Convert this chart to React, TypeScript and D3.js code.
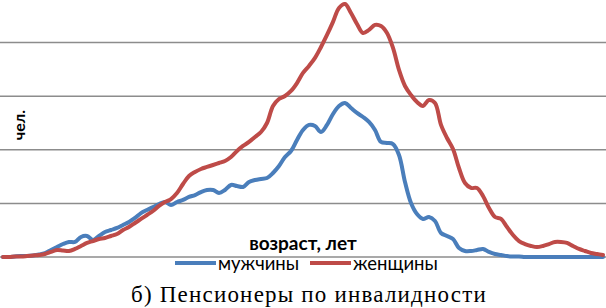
import React, { useEffect, useRef } from 'react';
import * as d3 from 'd3';

// Values (people per year of age, arbitrary scale: one grid step = 50)
const men = [
  0, 0, 0.5, 0.9, 0.9, 1.4, 2.3, 3.7, 6.5, 9.3,
  12.1, 14, 14, 18.7, 19.6, 15.9, 19.6, 23.3, 25.2, 27.1,
  29.9, 32.7, 36.4, 41, 43.9, 46.6, 49.4, 51.3, 48.5, 51.3,
  53.2, 56, 57.8, 60.6, 62.5, 62.5, 59.7, 62.5, 67.2, 66.2,
  65.3, 70, 71.8, 72.8, 73.7, 78.4, 84.9, 93.3, 98.9, 109.2,
  118.5, 123.2, 122.2, 116.6, 123.2, 133.4, 140.9, 143.7, 139, 134.4,
  130.6, 126, 118.5, 107.3, 106.4, 105.4, 95.2, 70, 50.4, 40.1,
  35.5, 37.3, 33.6, 22.4, 19.6, 16.8, 8.4, 5.6, 5.6, 6.5,
  7.5, 4.7, 2.8, 1.9, 0.9, 0.5, 0.5, 0, 0, 0,
  0, 0, 0, 0, 0, 0, 0, 0, 0, 0,
  0,
];

const women = [
  0, 0, 0.5, 0.5, 0.9, 1.4, 1.9, 2.8, 4.7, 6.5,
  6.1, 5.6, 7.5, 10.3, 13.1, 14.9, 16.8, 17.7, 19.6, 21.5,
  25.2, 28, 31.7, 35.5, 39.2, 42.9, 47.6, 51.3, 54.1, 59.7,
  68.1, 75.6, 79.3, 82.1, 84, 85.8, 87.7, 89.6, 93.3, 98.9,
  103.6, 107.3, 112, 116.6, 125, 140.9, 147.4, 150.2, 154.9, 162.3,
  171.7, 178.2, 185.7, 195.9, 207.1, 219.3, 232.3, 236, 227.6, 217.4,
  209, 211.8, 216.5, 215.5, 209, 195, 174.5, 159.5, 151.1, 144.6,
  140.9, 146.5, 143.7, 123.2, 111, 100.8, 83, 69, 64.4, 64.4,
  56.9, 45.7, 37.3, 35.5, 28, 20.5, 14.9, 12.1, 10.3, 9.3,
  10.3, 12.1, 14, 14, 13.1, 10.3, 7.5, 5.6, 3.7, 2.8,
  1.9,
];

const gridTicks = [0, 50, 100, 150, 200];

const seriesNames = ['мужчины', 'женщины'];
const seriesColors = ['#4A7EBB', '#BE4B48'];

const App: React.FC = () => {
  const svgRef = useRef<SVGSVGElement>(null);

  useEffect(() => {
    if (!svgRef.current) return;
    const svg = d3.select(svgRef.current);
    svg.selectAll('*').remove();

    const x = d3.scaleLinear().domain([0, men.length - 1]).range([3, 603]);
    const y = d3.scaleLinear().domain([0, 250]).range([257, -11]);

    // horizontal grid lines
    svg.selectAll('.grid')
      .data(gridTicks)
      .enter()
      .append('line')
      .attr('x1', 0)
      .attr('x2', 606)
      .attr('y1', d => y(d))
      .attr('y2', d => y(d))
      .attr('stroke', '#8c8c8c')
      .attr('stroke-width', 1.5);

    const line = d3.line<number>()
      .x((d, i) => x(i))
      .y(d => y(d))
      .curve(d3.curveCatmullRom.alpha(0.5));

    [men, women].forEach((values, k) => {
      svg.append('path')
        .datum(values)
        .attr('d', line)
        .attr('fill', 'none')
        .attr('stroke', seriesColors[k])
        .attr('stroke-width', 4)
        .attr('stroke-linejoin', 'round')
        .attr('stroke-linecap', 'round');
    });

    // axis titles
    svg.append('text')
      .attr('transform', 'translate(25,125) rotate(-90)')
      .attr('text-anchor', 'middle')
      .attr('font-family', 'Lato, sans-serif')
      .attr('font-weight', 'bold')
      .attr('font-size', 16)
      .attr('fill', '#000')
      .text('чел.');

    svg.append('text')
      .attr('x', 303)
      .attr('y', 250)
      .attr('text-anchor', 'middle')
      .attr('font-family', 'Lato, sans-serif')
      .attr('font-weight', 'bold')
      .attr('font-size', 19)
      .attr('fill', '#000')
      .text('возраст, лет');

    // legend
    const legendX = [175, 310];
    seriesNames.forEach((name, k) => {
      const g = svg.append('g').attr('transform', `translate(${legendX[k]},263)`);
      g.append('line')
        .attr('x1', 0)
        .attr('x2', 41)
        .attr('stroke', seriesColors[k])
        .attr('stroke-width', 4);
      g.append('text')
        .attr('x', 43)
        .attr('y', 7)
        .attr('font-family', 'Lato, sans-serif')
        .attr('font-size', 18.5)
        .attr('fill', '#000')
        .text(name);
    });

    // caption
    svg.append('text')
      .attr('x', 309)
      .attr('y', 302)
      .attr('text-anchor', 'middle')
      .attr('font-family', '"Liberation Serif", "Times New Roman", serif')
      .attr('font-size', 23)
      .attr('letter-spacing', 1.2)
      .attr('fill', '#000')
      .text('б) Пенсионеры по инвалидности');
  }, []);

  return (
    <div style={{ position: 'absolute', left: 0, top: 0 }}>
      <svg ref={svgRef} width={606} height={308} style={{ display: 'block', background: '#fff' }} />
    </div>
  );
};

export default App;
